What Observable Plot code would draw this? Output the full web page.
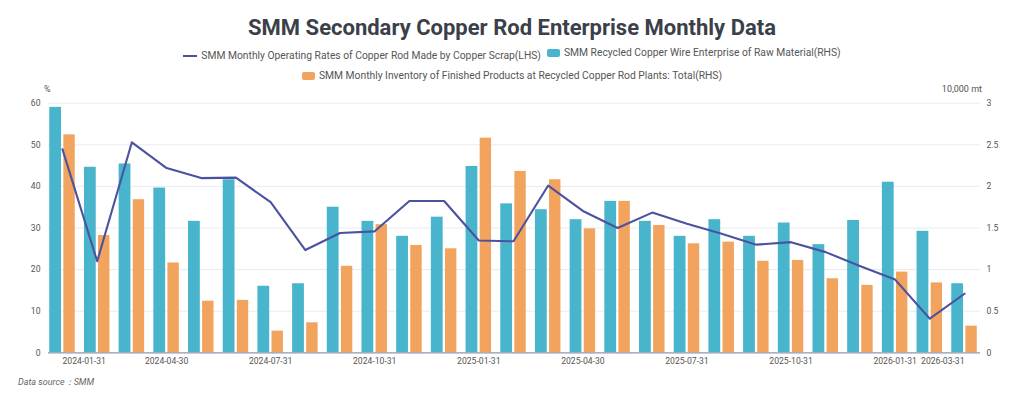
<!DOCTYPE html>
<html>
<head>
<meta charset="utf-8">
<script src="https://cdn.jsdelivr.net/npm/d3@7"></script>
<script src="https://cdn.jsdelivr.net/npm/@observablehq/plot@0.6"></script>
<style>
  body { margin: 0; background: #fff; }
  #wrap { position: relative; width: 1024px; height: 399px; overflow: hidden; font-family: Roboto, "Noto Sans", sans-serif; }
  #title { position: absolute; top: 15px; left: 0; width: 1024px; text-align: center; font-weight: bold; font-size: 22px; color: #3b3f4a; white-space: nowrap; }
  .legend { position: absolute; left: 0; width: 1024px; text-align: center; font-size: 10.3px; color: #555; white-space: nowrap; }
  .item { display: inline-flex; align-items: center; margin: 0 3px; }
  .sym { display: inline-block; margin-right: 4px; }
  .unit { position: absolute; top: 84px; font-size: 9px; color: #555; }
  #chart { position: absolute; top: 82px; left: 0; }
  #caption { position: absolute; left: 18px; top: 376px; font-size: 9px; font-style: italic; color: #666; }
</style>
</head>
<body>
<div id="wrap">
  <div id="title"></div>
  <div class="legend" id="legend1" style="top:46px"></div>
  <div class="legend" id="legend2" style="top:69px"></div>
  <div class="unit" id="unitL" style="left:44px"></div>
  <div class="unit" id="unitR" style="right:42px"></div>
  <div id="chart"></div>
  <div id="caption"></div>
</div>
<script>
const titleText = "SMM Secondary Copper Rod Enterprise Monthly Data";
const captionText = "Data source：SMM";
const unitLeft = "%";
const unitRight = "10,000 mt";

const seriesNames = [
  "SMM Monthly Operating Rates of Copper Rod Made by Copper Scrap(LHS)",
  "SMM Recycled Copper Wire Enterprise of Raw Material(RHS)",
  "SMM Monthly Inventory of Finished Products at Recycled Copper Rod Plants: Total(RHS)"
];
const colors = ["#4b52a0", "#48b5cc", "#f2a35d"];

const months = ["2024-01-31","2024-02-29","2024-03-31","2024-04-30","2024-05-31","2024-06-30",
  "2024-07-31","2024-08-31","2024-09-30","2024-10-31","2024-11-30","2024-12-31",
  "2025-01-31","2025-02-28","2025-03-31","2025-04-30","2025-05-31","2025-06-30",
  "2025-07-31","2025-08-31","2025-09-30","2025-10-31","2025-11-30","2025-12-31",
  "2026-01-31","2026-02-28","2026-03-31"];

// LHS, %
const operatingRate = [48.9, 22.0, 50.6, 44.4, 42.0, 42.1, 36.2, 24.7, 28.8, 29.2, 36.5, 36.5,
  27.0, 26.8, 40.2, 34.1, 30.0, 33.7, 31.0, 28.6, 26.0, 26.6, 24.2, 20.8, 17.6, 8.2, 14.2];
// RHS, 10,000 mt
const rawMaterial = [2.95, 2.23, 2.27, 1.98, 1.58, 2.08, 0.80, 0.83, 1.75, 1.58, 1.40, 1.63,
  2.24, 1.79, 1.72, 1.60, 1.82, 1.58, 1.40, 1.60, 1.40, 1.56, 1.30, 1.59, 2.05, 1.46, 0.83];
const inventory = [2.62, 1.41, 1.84, 1.08, 0.62, 0.63, 0.26, 0.36, 1.04, 1.54, 1.29, 1.25,
  2.58, 2.18, 2.08, 1.49, 1.82, 1.53, 1.31, 1.33, 1.10, 1.11, 0.89, 0.81, 0.97, 0.84, 0.32];

const leftTicks = [0, 10, 20, 30, 40, 50, 60];
const rightTicks = [0, 0.5, 1, 1.5, 2, 2.5, 3];
const xTickLabels = ["2024-01-31","2024-04-30","2024-07-31","2024-10-31","2025-01-31",
  "2025-04-30","2025-07-31","2025-10-31","2026-01-31","2026-03-31"];

const RATIO = 60 / 3; // LHS units per RHS unit

const rows = months.map((m, i) => ({
  month: m, rate: operatingRate[i], raw: rawMaterial[i] * RATIO, inv: inventory[i] * RATIO
}));

document.getElementById("title").textContent = titleText;
document.getElementById("caption").textContent = captionText;
document.getElementById("unitL").textContent = unitLeft;
document.getElementById("unitR").textContent = unitRight;

function legendItem(name, color, kind) {
  const el = document.createElement("span");
  el.className = "item";
  const sym = document.createElement("span");
  sym.className = "sym";
  if (kind === "line") {
    sym.style.cssText = `width:14px;height:2px;background:${color};`;
  } else {
    sym.style.cssText = `width:13px;height:8px;border-radius:2px;background:${color};`;
  }
  el.appendChild(sym);
  const t = document.createElement("span");
  t.textContent = name;
  el.appendChild(t);
  return el;
}
const l1 = document.getElementById("legend1");
l1.appendChild(legendItem(seriesNames[0], colors[0], "line"));
l1.appendChild(legendItem(seriesNames[1], colors[1], "rect"));
document.getElementById("legend2").appendChild(legendItem(seriesNames[2], colors[2], "rect"));

const firstTick = xTickLabels.slice(0, 1);
const lastTick = xTickLabels.slice(-1);
const midTicks = xTickLabels.slice(1, -1);
const axisStyle = { tickSize: 0, label: null, fill: "#555", fontSize: 8.6 };

const chart = Plot.plot({
  width: 1024,
  height: 290,
  marginTop: 20.7,
  marginBottom: 19.7,
  marginLeft: 48,
  marginRight: 44,
  style: { fontFamily: "Roboto, 'Noto Sans', sans-serif", fontSize: "8.6px", color: "#555", background: "transparent" },
  x: { type: "band", domain: months, range: [44.65, 981.35], padding: 0, round: false, axis: null },
  y: { domain: [0, 60], axis: null },
  marks: [
    Plot.ruleY(leftTicks.slice(1), { stroke: "#e9ebf0", strokeWidth: 1 }),
    Plot.barY(rows, { x: "month", y: "raw", fill: colors[1], insetLeft: 4.6, insetRight: 18.3 }),
    Plot.barY(rows, { x: "month", y: "inv", fill: colors[2], insetLeft: 18.7, insetRight: 4.6 }),
    Plot.ruleY([0], { stroke: "#8f98aa", strokeWidth: 1.2 }),
    Plot.line(rows, { x: "month", y: "rate", stroke: colors[0], strokeWidth: 2.1 }),
    Plot.axisY({ ...axisStyle, anchor: "left", ticks: leftTicks, tickPadding: 8 }),
    Plot.axisY({ ...axisStyle, anchor: "right", ticks: rightTicks.map(v => v * RATIO), tickFormat: d => String(d / RATIO), tickPadding: 6 }),
    Plot.axisX({ ...axisStyle, ticks: midTicks, tickPadding: 5 }),
    Plot.axisX({ ...axisStyle, ticks: firstTick, tickPadding: 5, textAnchor: "start" }),
    Plot.axisX({ ...axisStyle, ticks: lastTick, tickPadding: 5, textAnchor: "end" })
  ]
});
document.getElementById("chart").appendChild(chart);
</script>
</body>
</html>
